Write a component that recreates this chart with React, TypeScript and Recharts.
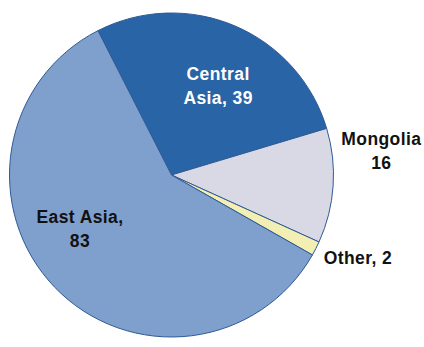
import { PieChart, Pie, Cell } from 'recharts'

if (typeof document !== 'undefined') document.body.style.margin = '0'

const regions = ['Central Asia', 'Mongolia', 'Other', 'East Asia']
const values = [39, 16, 2, 83]
const labelLines = [
  ['Central', 'Asia, 39'],
  ['Mongolia', '16'],
  ['Other, 2'],
  ['East Asia,', '83'],
]

const colors = ['#2964a6', '#d9d9e5', '#f3efb3', '#7f9fcc']
const labelColors = ['#ffffff', '#111111', '#111111', '#111111']
// label placement relative to slice: radius factor, angle shift (deg)
const labelSpot = [
  { k: 0.62, shift: -4.5 },
  { k: 1.304, shift: 10.5 },
  { k: 1.26, shift: 3 },
  { k: 0.655, shift: -13.3 },
]

const data = regions.map((name, i) => ({ name, value: values[i] }))

const RAD = Math.PI / 180

function renderLabel(props: any) {
  const { cx, cy, midAngle, outerRadius, index } = props
  const spot = labelSpot[index]
  const a = (midAngle + spot.shift) * RAD
  const r = outerRadius * spot.k
  const x = cx + r * Math.cos(a)
  const y = cy - r * Math.sin(a)
  const lines = labelLines[index]
  const first = lines.length > 1 ? y - 6 : y + 6
  return (
    <text
      x={x}
      y={first}
      textAnchor="middle"
      fill={labelColors[index]}
      fontFamily="'Liberation Sans', Arial, sans-serif"
      fontWeight="bold"
      fontSize={17.5}
      letterSpacing={0.4}
    >
      {lines.map((t, j) => (
        <tspan key={j} x={x} y={first + j * 24}>
          {t}
        </tspan>
      ))}
    </text>
  )
}

export default function App() {
  return (
    <div style={{ width: 424, height: 347, background: '#fff' }}>
      <PieChart width={424} height={347} margin={{ top: 0, right: 0, bottom: 0, left: 0 }}>
        <Pie
          data={data}
          dataKey="value"
          nameKey="name"
          cx={171.5}
          cy={175}
          outerRadius={162}
          startAngle={117}
          endAngle={-243}
          stroke="#2e5a96"
          strokeWidth={1}
          label={renderLabel}
          labelLine={false}
          isAnimationActive={false}
        >
          {data.map((_, i) => (
            <Cell key={i} fill={colors[i]} />
          ))}
        </Pie>
      </PieChart>
    </div>
  )
}
